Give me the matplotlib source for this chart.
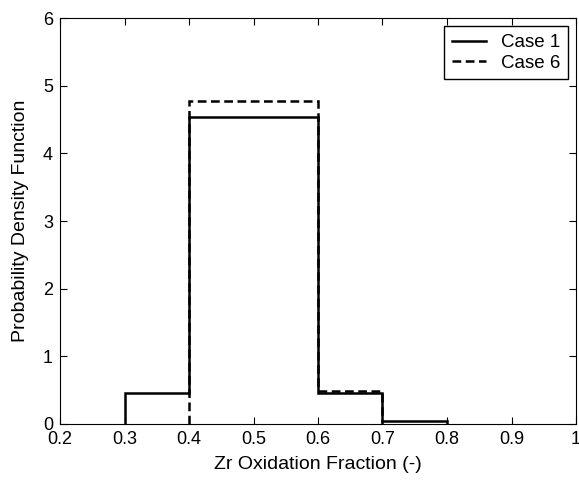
import numpy as np
import matplotlib
matplotlib.use("Agg")
import matplotlib.pyplot as plt
from matplotlib.lines import Line2D

# bin edges and pdf values for each case
edges1 = [0.3, 0.4, 0.5, 0.6, 0.7, 0.8]
case1 = [0.46, 4.54, 4.54, 0.46, 0.04]
edges6 = [0.4, 0.5, 0.6, 0.7]
case6 = [4.78, 4.78, 0.49]

xticks = [0.2, 0.3, 0.4, 0.5, 0.6, 0.7, 0.8, 0.9, 1.0]
xlabels = ['0.2', '0.3', '0.4', '0.5', '0.6', '0.7', '0.8', '0.9', '1']

plt.rcParams['font.family'] = ['Liberation Sans', 'DejaVu Sans']
fig = plt.figure(figsize=(5.79, 4.82), dpi=100)
ax = fig.add_axes([60/579, 1-424/482, (576-60)/579, (424-18)/482])

dash = (0, (3.5, 1.8))
ax.stairs(case6, edges6, color='black', lw=1.8, ls=dash, baseline=0)
ax.stairs(case1, edges1, color='black', lw=1.8, baseline=0)

ax.set_xlim(0.2, 1)
ax.set_ylim(0, 6)
ax.set_xticks(xticks)
ax.set_xticklabels(xlabels)
ax.set_yticks(range(7))
ax.tick_params(direction='in', top=True, right=True, labelsize=13, length=5, pad=5)
ax.set_xlabel('Zr Oxidation Fraction (-)', fontsize=14, labelpad=6)
ax.set_ylabel('Probability Density Function', fontsize=14, labelpad=10)

handles = [Line2D([], [], color='black', lw=1.8),
           Line2D([], [], color='black', lw=1.8, ls=dash)]
ax.legend(handles, ['Case 1', 'Case 6'], loc='upper right', fontsize=13.5,
          fancybox=False, edgecolor='black', framealpha=1, handlelength=1.8,
          borderaxespad=0.45, labelspacing=0.2, borderpad=0.4)

plt.savefig('out.png', dpi=100)
